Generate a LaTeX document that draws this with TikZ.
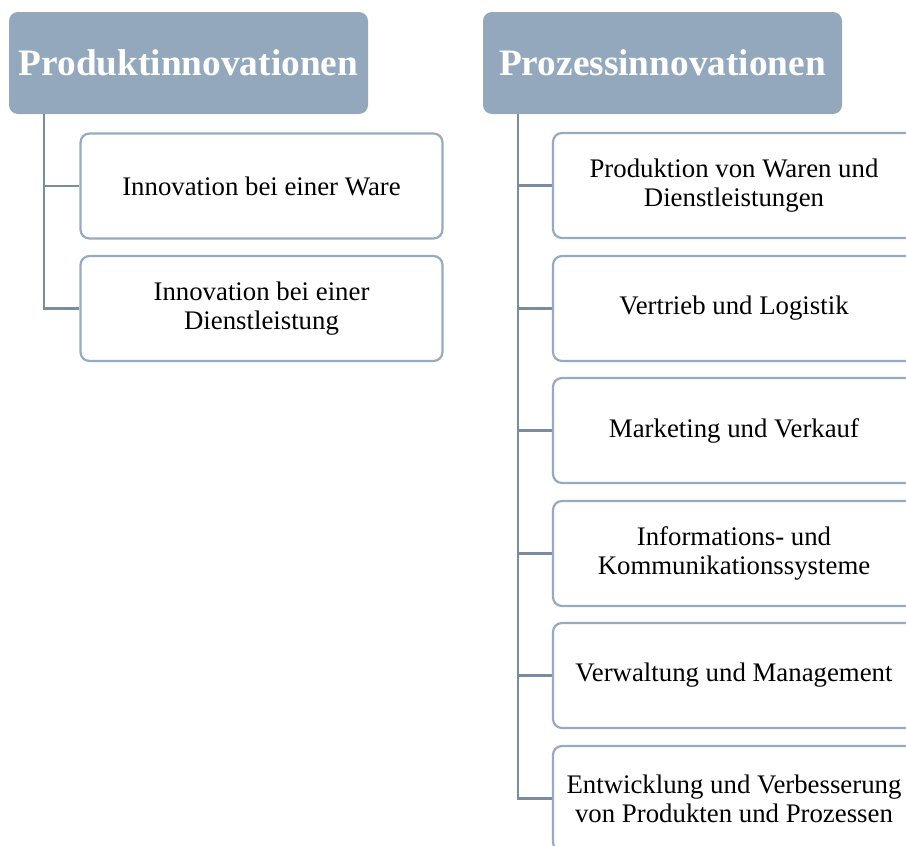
\documentclass[tikz,border=0pt]{standalone}
\usepackage{fontspec}
\setmainfont{Liberation Serif}
\definecolor{HeadBlue}{HTML}{94A8BD}
\definecolor{EdgeBlue}{HTML}{97AABF}
\definecolor{LineBlue}{HTML}{7A8CA2}

\begin{document}
\begin{tikzpicture}[x=1pt, y=-1pt,
    head/.style={fill=HeadBlue, rounded corners=9pt, inner sep=0pt,
        minimum width=359pt, minimum height=102pt, text=white,
        font=\fontsize{37.3}{40}\selectfont\bfseries},
    item/.style={draw=EdgeBlue, line width=2.2pt, fill=white, rounded corners=9pt,
        inner sep=0pt, minimum width=362pt, minimum height=105pt, align=center,
        font=\fontsize{26.8}{29}\selectfont},
    conn/.style={draw=LineBlue, line width=2.6pt}]
    \clip (0,0) rectangle (906,846);
    \useasboundingbox (0,0) rectangle (906,846);

    % Produktinnovationen
    \node[head] (prod) at (188.5,63) {Produktinnovationen};
    \node[item] (ware) at (261.5,186) {Innovation bei einer Ware};
    \node[item] (dienst) at (261.5,308.5) {Innovation bei einer\\Dienstleistung};

    % Prozessinnovationen
    \node[head] (proz) at (662.5,63) {Prozessinnovationen};
    \node[item] (produktion) at (734,185.5) {Produktion von Waren und\\Dienstleistungen};
    \node[item] (vertrieb) at (734,308.5) {Vertrieb und Logistik};
    \node[item] (marketing) at (734,430.5) {Marketing und Verkauf};
    \node[item] (info) at (734,553.5) {Informations- und\\Kommunikationssysteme};
    \node[item] (verwaltung) at (734,675.5) {Verwaltung und Management};
    \node[item] (entwicklung) at (734,798.5) {Entwicklung und Verbesserung\\von Produkten und Prozessen};

    % Verbindungen
    \path[conn] ([xshift=35pt]prod.south west) |- (ware.west);
    \path[conn] ([xshift=35pt]prod.south west) |- (dienst.west);
    \foreach \n in {produktion, vertrieb, marketing, info, verwaltung, entwicklung}
        \path[conn] ([xshift=35pt]proz.south west) |- (\n.west);
\end{tikzpicture}
\end{document}
